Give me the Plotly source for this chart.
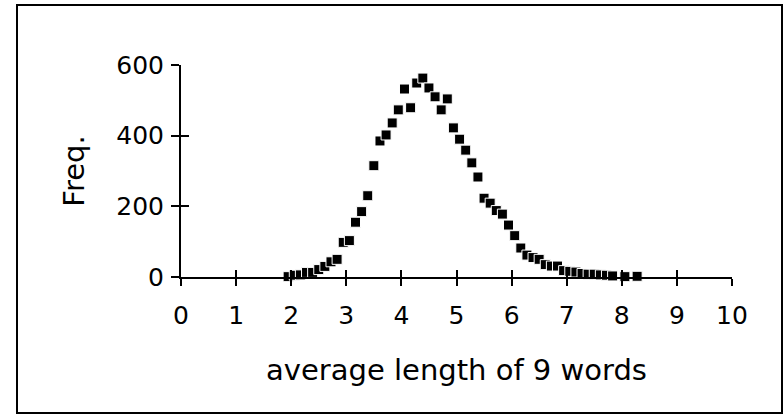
import plotly.graph_objects as go

# average word length (bin centres) and frequency
avg_len = [1.944, 2.056, 2.167, 2.278, 2.389, 2.5, 2.611, 2.722, 2.833, 2.944,
           3.056, 3.167, 3.278, 3.389, 3.5, 3.611, 3.722, 3.833, 3.944, 4.056,
           4.167, 4.278, 4.389, 4.5, 4.611, 4.722, 4.833, 4.944, 5.056, 5.167,
           5.278, 5.389, 5.5, 5.611, 5.722, 5.833, 5.944, 6.056, 6.167, 6.278,
           6.389, 6.5, 6.611, 6.722, 6.833, 6.944, 7.056, 7.167, 7.278, 7.389,
           7.5, 7.611, 7.722, 7.833, 8.056, 8.278]
freq = [1, 5, 6, 13, 13, 21, 30, 43, 50, 98,
        103, 155, 185, 230, 315, 385, 402, 436, 473, 532,
        479, 549, 563, 535, 510, 473, 504, 422, 390, 359,
        323, 283, 223, 209, 188, 178, 147, 117, 82, 62,
        55, 50, 35, 31, 31, 18, 16, 14, 10, 8,
        8, 6, 5, 3, 1, 2]

x_ticks = [0, 1, 2, 3, 4, 5, 6, 7, 8, 9, 10]
y_ticks = [0, 200, 400, 600]

FONT = "DejaVu Sans"
TICK_FS = 25
TITLE_FS = 29

fig = go.Figure()
fig.add_trace(go.Scatter(
    x=avg_len, y=freq, mode="markers",
    marker=dict(symbol="square", size=10, color="black",
                line=dict(color="white", width=1)),
    showlegend=False, cliponaxis=False,
))
# invisible trace to anchor the overlay axes (inner halves of crossing ticks)
fig.add_trace(go.Scatter(
    x=avg_len, y=freq, mode="markers", xaxis="x2", yaxis="y2",
    marker=dict(opacity=0), showlegend=False, hoverinfo="skip",
))

L, R, T, B = 181, 52, 65, 138
W, H = 784, 415
pw, ph = W - L - R, H - T - B

axis_common = dict(showgrid=False, zeroline=False, tickcolor="black",
                   tickwidth=2)

fig.update_layout(
    width=W, height=H,
    margin=dict(l=L, r=R, t=T, b=B, pad=0),
    paper_bgcolor="white", plot_bgcolor="white",
    font=dict(family=FONT, size=TICK_FS, color="black"),
    xaxis=dict(range=[0, 10], tickvals=x_ticks, ticks="outside", ticklen=7,
               showline=True, linecolor="black", linewidth=2,
               ticklabelstandoff=8, tickfont=dict(size=TICK_FS),
               title=dict(text="average length of 9 words", standoff=31,
                          font=dict(size=TITLE_FS)),
               **axis_common),
    yaxis=dict(range=[0, 600], tickvals=y_ticks, ticks="outside", ticklen=8,
               showline=True, linecolor="black", linewidth=2,
               ticklabelstandoff=2, tickfont=dict(size=TICK_FS),
               title=dict(text="Freq.", standoff=23, font=dict(size=TITLE_FS)),
               **axis_common),
    xaxis2=dict(range=[0, 10], tickvals=x_ticks, ticks="inside", ticklen=7,
                overlaying="x", anchor="y", side="bottom",
                showticklabels=False, showline=False, **axis_common),
    yaxis2=dict(range=[0, 600], tickvals=y_ticks, ticks="inside", ticklen=8,
                overlaying="y", anchor="x", side="left",
                showticklabels=False, showline=False, **axis_common),
    shapes=[dict(type="rect", xref="paper", yref="paper",
                 x0=(17 - L) / pw, x1=(782 - L) / pw,
                 y0=(H - B - 413) / ph, y1=(H - B - 5) / ph,
                 line=dict(color="black", width=2), fillcolor="rgba(0,0,0,0)")],
)

fig.write_html("out.html",
               config={"displayModeBar": False},
               post_script="document.body.style.margin='0px';"
                           "document.body.style.overflow='hidden';")
